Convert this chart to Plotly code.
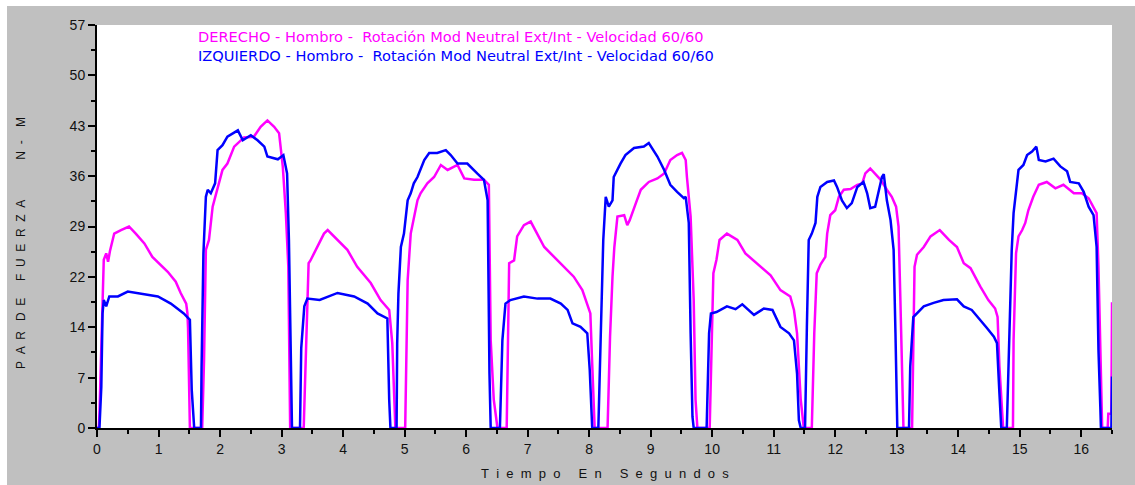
import plotly.graph_objects as go

# ---- data (time in s, torque in N-M) ----
der_t = [0.0, 0.03, 0.04, 0.08, 0.11, 0.15, 0.18, 0.21, 0.28, 0.39, 0.52, 0.63, 0.77, 0.90, 1.01, 1.15, 1.28, 1.36, 1.45, 1.47, 1.48, 1.50, 1.51,
         1.71, 1.74, 1.77, 1.82, 1.88, 1.96, 2.04, 2.12, 2.23, 2.39, 2.55, 2.66, 2.77, 2.88, 2.96, 3.02, 3.07, 3.11, 3.14,
         3.36, 3.40, 3.44, 3.47, 3.58, 3.69, 3.75, 3.91, 4.07, 4.23, 4.45, 4.61, 4.75, 4.80, 4.83, 4.85,
         5.01, 5.05, 5.10, 5.21, 5.26, 5.37, 5.48, 5.59, 5.70, 5.86, 5.97, 6.13, 6.29, 6.37, 6.40, 6.45, 6.51,
         6.66, 6.70, 6.78, 6.83, 6.94, 7.05, 7.16, 7.27, 7.43, 7.59, 7.75, 7.89, 8.02, 8.05, 8.09,
         8.30, 8.34, 8.38, 8.41, 8.46, 8.57, 8.62, 8.66, 8.76, 8.84, 8.97, 9.11, 9.22, 9.32, 9.43, 9.51, 9.57, 9.59, 9.65, 9.70, 9.73, 9.76,
         9.96, 10.00, 10.02, 10.07, 10.12, 10.24, 10.41, 10.54, 10.73, 10.95, 11.11, 11.27, 11.33, 11.38, 11.44, 11.49,
         11.62, 11.66, 11.70, 11.76, 11.84, 11.87, 11.92, 12.00, 12.06, 12.14, 12.25, 12.36, 12.44, 12.49, 12.57, 12.65, 12.74, 12.84, 12.92, 12.99, 13.03, 13.06, 13.09, 13.11,
         13.25, 13.29, 13.33, 13.44, 13.55, 13.70, 13.85, 13.98, 14.09, 14.20, 14.36, 14.49, 14.60, 14.64, 14.67, 14.71, 14.73,
         14.89, 14.90, 14.94, 14.98, 15.04, 15.09, 15.14, 15.22, 15.31, 15.44, 15.58, 15.71, 15.88, 16.01, 16.12, 16.20, 16.25, 16.28, 16.31, 16.34,
         16.43, 16.44, 16.49, 16.50]
der_v = [0, 0, 2.1, 13.9, 23.8, 24.7, 23.5, 25.0, 27.5, 28.0, 28.5, 27.5, 26.1, 24.2, 23.3, 22.1, 20.7, 19.1, 17.6, 16.2, 14.1, 4.0, 0,
         0, 9.6, 25.2, 26.6, 31.3, 34.1, 36.5, 37.4, 39.8, 41.1, 41.2, 42.6, 43.5, 42.6, 41.7, 37.0, 30.4, 22.8, 0,
         0, 12.0, 23.3, 23.7, 25.6, 27.5, 28.0, 26.6, 25.2, 22.8, 20.5, 18.1, 16.7, 12.0, 4.0, 0,
         0, 20.9, 27.5, 32.2, 33.2, 34.6, 35.5, 37.2, 36.5, 37.2, 35.3, 35.1, 35.1, 34.4, 12.4, 4.0, 0,
         0, 23.3, 23.7, 27.1, 28.7, 29.2, 27.5, 25.6, 24.2, 22.8, 21.4, 19.5, 16.2, 9.1, 0,
         0, 12.9, 21.4, 25.6, 29.9, 30.1, 28.7, 29.4, 31.8, 33.7, 34.8, 35.3, 36.0, 37.9, 38.6, 38.9, 37.9, 35.5, 29.9, 18.1, 4.0, 0,
         0, 14.0, 21.9, 23.8, 26.6, 27.5, 26.6, 24.7, 23.3, 21.6, 19.5, 18.6, 16.7, 13.4, 4.0, 0,
         0, 13.4, 21.9, 23.1, 24.2, 27.5, 30.1, 30.8, 32.7, 33.7, 33.8, 34.4, 34.6, 36.0, 36.7, 36.0, 35.1, 33.7, 32.7, 31.3, 28.5, 18.1, 4.0, 0,
         0, 22.8, 24.5, 25.6, 27.1, 28.0, 26.6, 25.6, 23.3, 22.6, 20.0, 18.1, 16.9, 15.7, 8.7, 1.6, 0,
         0, 12.4, 24.7, 27.1, 28.0, 29.0, 30.8, 32.7, 34.4, 34.8, 33.9, 34.4, 33.2, 33.2, 32.5, 31.3, 30.4, 22.8, 10.6, 0,
         0, 2.0, 2.0, 17.8]

izq_t = [0.0, 0.04, 0.07, 0.09, 0.11, 0.15, 0.20, 0.34, 0.50, 0.66, 0.99, 1.20, 1.41, 1.51, 1.54, 1.58,
         1.69, 1.70, 1.73, 1.77, 1.80, 1.85, 1.92, 1.96, 2.04, 2.12, 2.29, 2.37, 2.50, 2.61, 2.72, 2.77, 2.94, 3.03, 3.09, 3.12, 3.15, 3.17,
         3.30, 3.32, 3.37, 3.42, 3.62, 3.91, 4.18, 4.40, 4.56, 4.72, 4.75, 4.77,
         4.87, 4.88, 4.90, 4.94, 4.99, 5.05, 5.10, 5.15, 5.21, 5.32, 5.40, 5.53, 5.67, 5.75, 5.86, 6.02, 6.18, 6.29, 6.35, 6.36, 6.38, 6.40,
         6.55, 6.59, 6.64, 6.72, 6.94, 7.16, 7.37, 7.54, 7.65, 7.73, 7.86, 7.97, 8.01, 8.05,
         8.15, 8.19, 8.23, 8.27, 8.32, 8.38, 8.40, 8.51, 8.59, 8.73, 8.89, 8.97, 9.11, 9.22, 9.32, 9.43, 9.54, 9.57, 9.62, 9.65, 9.68, 9.70,
         9.91, 9.95, 9.98, 10.07, 10.24, 10.38, 10.49, 10.68, 10.84, 10.98, 11.11, 11.25, 11.33, 11.38, 11.41, 11.44,
         11.51, 11.54, 11.57, 11.62, 11.68, 11.71, 11.76, 11.87, 11.98, 12.03, 12.11, 12.19, 12.27, 12.36, 12.46, 12.52, 12.57, 12.65, 12.71, 12.76, 12.79, 12.84, 12.90, 12.95, 12.98, 13.00, 13.01,
         13.20, 13.22, 13.27, 13.33, 13.44, 13.60, 13.76, 13.98, 14.09, 14.22, 14.36, 14.47, 14.58, 14.63, 14.67, 14.70,
         14.79, 14.82, 14.87, 14.90, 14.95, 14.98, 15.06, 15.12, 15.20, 15.27, 15.31, 15.42, 15.55, 15.66, 15.77, 15.82, 15.96, 16.04, 16.12, 16.20, 16.25, 16.28, 16.31, 16.32,
         16.49, 16.50]
izq_v = [0, 0, 5.8, 16.2, 18.1, 17.2, 18.6, 18.6, 19.3, 19.1, 18.6, 17.6, 16.2, 15.3, 5.4, 0,
         0, 8.7, 24.7, 32.7, 33.7, 33.2, 34.6, 39.3, 40.0, 41.2, 42.1, 40.7, 41.4, 40.7, 39.8, 38.4, 38.0, 38.6, 36.0, 26.6, 13.4, 0,
         0, 11.3, 17.2, 18.3, 18.1, 19.1, 18.6, 17.6, 16.2, 15.5, 4.0, 0,
         0, 12.0, 19.0, 25.6, 27.5, 32.2, 33.2, 34.6, 35.5, 37.9, 38.9, 38.9, 39.3, 38.6, 37.4, 37.4, 36.0, 35.1, 32.2, 20.9, 7.7, 0,
         0, 12.4, 17.6, 18.1, 18.6, 18.3, 18.3, 17.6, 16.7, 14.8, 14.3, 13.4, 8.2, 0,
         0, 13.4, 26.6, 32.7, 31.3, 32.2, 35.5, 37.4, 38.6, 39.6, 39.8, 40.3, 38.4, 36.5, 34.4, 33.4, 32.5, 32.7, 29.0, 13.4, 1.6, 0,
         0, 13.4, 16.2, 16.4, 17.2, 16.8, 17.5, 16.0, 16.9, 16.7, 14.3, 13.4, 12.4, 7.7, 1.1, 0,
         0, 14.3, 26.6, 27.5, 29.0, 32.7, 34.1, 34.8, 35.0, 34.1, 32.2, 31.1, 31.8, 34.1, 34.8, 33.2, 31.1, 31.3, 33.7, 35.5, 35.9, 32.2, 29.4, 25.2, 13.4, 4.0, 0,
         0, 8.7, 15.7, 16.2, 17.2, 17.7, 18.1, 18.2, 17.2, 16.7, 15.3, 14.1, 12.9, 12.0, 4.9, 0,
         0, 9.6, 25.2, 30.4, 34.6, 36.5, 37.2, 38.6, 39.1, 39.8, 37.9, 37.7, 38.1, 37.0, 36.3, 34.8, 34.6, 33.4, 31.3, 30.1, 25.6, 11.0, 3.0, 0,
         0, 7.3]

y_tickvals = [i * 57 / 8 for i in range(9)]
y_ticktext = ["0", "7", "14", "22", "29", "36", "43", "50", "57"]
x_tickvals = list(range(17))
x_ticktext = [str(i) for i in x_tickvals]

NB = "\u00a0"
title_der = "DERECHO - Hombro -" + NB * 2 + "Rotación Mod Neutral" + NB + "Ext/Int - Velocidad 60/60"
title_izq = "IZQUIERDO - Hombro -" + NB * 2 + "Rotación Mod Neutral" + NB + "Ext/Int - Velocidad 60/60"

def spaced(words, letter_gap, word_gaps):
    parts = []
    for i, w in enumerate(words):
        parts.append((NB * letter_gap).join(w))
        if i < len(words) - 1:
            parts.append(NB * word_gaps[i])
    return "".join(parts)

ytitle = spaced(["PAR", "DE", "FUERZA", "N", "-", "M"], 2, [3, 5, 12, 2, 4])
xtitle = spaced(["Tiempo", "En", "Segundos"], 2, [5, 5])

MAG = "#FF00FF"
BLU = "#0000FF"
FONT = "Liberation Sans, Arial, sans-serif"
TFONT = "DejaVu Sans, Verdana, sans-serif"

fig = go.Figure()
fig.add_trace(go.Scatter(x=der_t, y=der_v, mode="lines", line=dict(color=MAG, width=2.5),
                         name="DERECHO", showlegend=False))
fig.add_trace(go.Scatter(x=izq_t, y=izq_v, mode="lines", line=dict(color=BLU, width=2.5),
                         name="IZQUIERDO", showlegend=False))

W, H = 1135, 485
L, R, T, B = 97, 23, 25, 57
pw, ph = W - L - R, H - T - B

def px2x(px):
    return (px - L) / pw

def py2y(py):
    return 1 - (py - T) / ph

axis_common = dict(showgrid=False, zeroline=False, showline=True, linecolor="black", linewidth=2,
                   ticks="outside", ticklen=7, tickwidth=2, tickcolor="black", automargin=False,
                   tickfont=dict(size=14, color="#111111"))

fig.update_layout(
    width=W, height=H,
    margin=dict(l=L, r=R, t=T, b=B, pad=0, autoexpand=False),
    paper_bgcolor="#C0C0C0",
    plot_bgcolor="white",
    font=dict(family=FONT, size=13, color="#111111"),
    xaxis=dict(range=[0, 16.5], tickmode="array", tickvals=x_tickvals, ticktext=x_ticktext,
               minor=dict(dtick=0.5, tick0=0, ticklen=4, tickwidth=2, tickcolor="black", ticks="outside", showgrid=False),
               **axis_common),
    yaxis=dict(range=[0, 57], tickmode="array", tickvals=y_tickvals, ticktext=y_ticktext,
               minor=dict(dtick=57 / 16, tick0=0, ticklen=4, tickwidth=2, tickcolor="black", ticks="outside", showgrid=False),
               **axis_common),
    annotations=[
        dict(text=title_der, x=px2x(196), y=py2y(36.5), xref="paper", yref="paper",
             xanchor="left", yanchor="middle", showarrow=False,
             font=dict(family=TFONT, size=14.6, color=MAG)),
        dict(text=title_izq, x=px2x(196), y=py2y(55.5), xref="paper", yref="paper",
             xanchor="left", yanchor="middle", showarrow=False,
             font=dict(family=TFONT, size=14.6, color=BLU)),
        dict(text=ytitle, x=px2x(21), y=py2y(243), xref="paper", yref="paper",
             xanchor="center", yanchor="middle", showarrow=False, textangle=-90,
             font=dict(family=FONT, size=12, color="#111111")),
        dict(text=xtitle, x=px2x(605), y=py2y(473), xref="paper", yref="paper",
             xanchor="center", yanchor="middle", showarrow=False,
             font=dict(family=FONT, size=13, color="#111111")),
    ],
    shapes=[
        dict(type="rect", xref="paper", yref="paper", x0=px2x(0), x1=px2x(W), y0=py2y(6), y1=py2y(0),
             fillcolor="white", line=dict(width=0)),
        dict(type="rect", xref="paper", yref="paper", x0=px2x(0), x1=px2x(7), y0=py2y(H), y1=py2y(0),
             fillcolor="white", line=dict(width=0)),
    ],
)

fig.write_html("out.html")
